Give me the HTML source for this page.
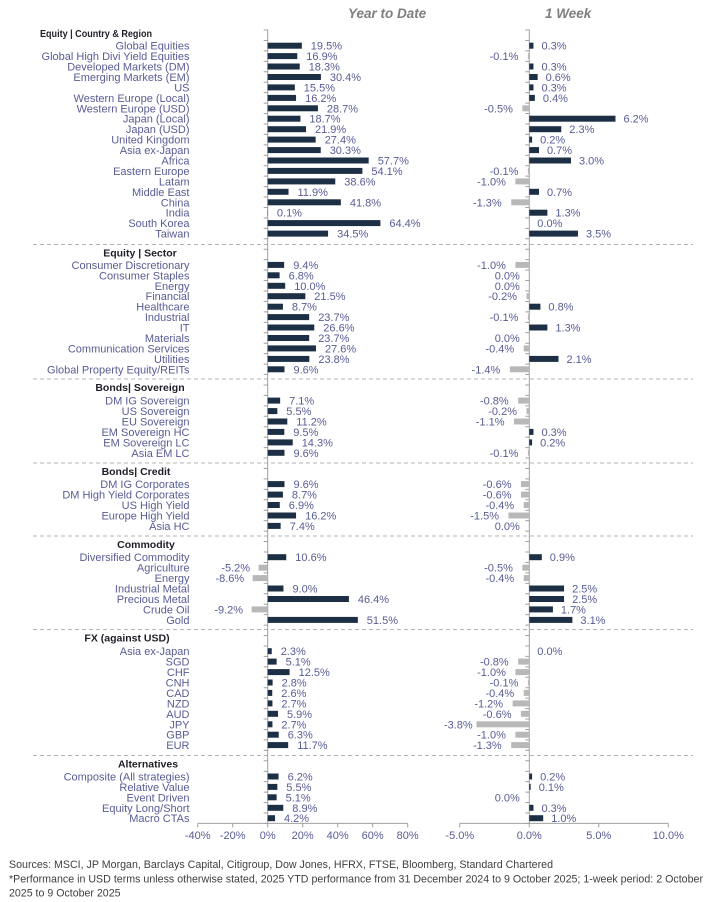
<!DOCTYPE html>
<html><head><meta charset="utf-8"><style>
html,body{margin:0;padding:0;background:#fff;}
svg{display:block;font-family:"Liberation Sans",Arial,sans-serif;}
.l{font-size:11px;fill:#585c94;text-anchor:end;}
.v{font-size:11px;fill:#585c94;}
.ve{font-size:11px;fill:#585c94;text-anchor:end;}
.h{font-size:10.5px;font-weight:bold;fill:#1e1e28;}
.hm{font-size:10.5px;font-weight:bold;fill:#1e1e28;text-anchor:middle;}
.p{fill:#1c2f45;}
.n{fill:#b8b8b8;}
.ax{font-size:11px;fill:#585c94;text-anchor:middle;}
.t{font-size:13.5px;font-weight:bold;font-style:italic;fill:#7f7f7f;}
.f{font-size:11px;fill:#404040;}
</style></head><body>
<svg width="714" height="902" viewBox="0 0 714 902" xmlns="http://www.w3.org/2000/svg">
<rect width="714" height="902" fill="#fff"/>
<text class="t" x="348" y="18">Year to Date</text>
<text class="t" x="545" y="18">1 Week</text>

<!-- separators -->
<g stroke="#b3b3b3" stroke-width="1" stroke-dasharray="4 3">
<line x1="33" y1="244.5" x2="693" y2="244.5"/>
<line x1="33" y1="379" x2="693" y2="379"/>
<line x1="33" y1="463" x2="693" y2="463"/>
<line x1="33" y1="536" x2="693" y2="536"/>
<line x1="33" y1="629.5" x2="693" y2="629.5"/>
<line x1="33" y1="755.5" x2="693" y2="755.5"/>
</g>

<!-- axes -->
<g stroke="#a0a0a0" stroke-width="1">
<line x1="267.7" y1="29.5" x2="267.7" y2="823.4"/>
<line x1="529.3" y1="29.5" x2="529.3" y2="823.4"/>
<line x1="197.7" y1="823.4" x2="407.7" y2="823.4"/>
<line x1="459.8" y1="823.4" x2="668.3" y2="823.4"/>
<path d="M197.7 823.4v4M232.7 823.4v4M267.7 823.4v4M302.7 823.4v4M337.7 823.4v4M372.7 823.4v4M407.7 823.4v4M459.8 823.4v4M529.3 823.4v4M598.8 823.4v4M668.3 823.4v4"/>
</g>
<g stroke="#a0a0a0" stroke-width="4" stroke-dasharray="1 9.44">
<line x1="265.7" y1="29.5" x2="265.7" y2="824.5"/>
<line x1="527.3" y1="29.5" x2="527.3" y2="824.5"/>
</g>

<text class="ax" x="197.7" y="839">-40%</text>
<text class="ax" x="232.7" y="839">-20%</text>
<text class="ax" x="267.7" y="839">0%</text>
<text class="ax" x="302.7" y="839">20%</text>
<text class="ax" x="337.7" y="839">40%</text>
<text class="ax" x="372.7" y="839">60%</text>
<text class="ax" x="407.7" y="839">80%</text>
<text class="ax" x="459.8" y="839">-5.0%</text>
<text class="ax" x="529.3" y="839">0.0%</text>
<text class="ax" x="598.8" y="839">5.0%</text>
<text class="ax" x="668.3" y="839">10.0%</text>

<!-- headers -->
<text class="h" x="40" y="37" textLength="112" lengthAdjust="spacingAndGlyphs">Equity | Country &amp; Region</text>
<text class="hm" x="140" y="256.5">Equity | Sector</text>
<text class="hm" x="140" y="391">Bonds| Sovereign</text>
<text class="hm" x="136" y="475">Bonds| Credit</text>
<text class="hm" x="146" y="548">Commodity</text>
<text class="hm" x="127" y="641.5">FX (against USD)</text>
<text class="hm" x="148" y="767.5">Alternatives</text>

<!-- Section 1 -->
<text class="l" x="189.5" y="49.7">Global Equities</text>
<rect class="p" x="267.7" y="42.7" width="34.13" height="6"/><text class="v" x="310.8" y="49.7">19.5%</text>
<rect class="p" x="529.3" y="42.7" width="4.17" height="6"/><text class="v" x="541.5" y="49.7">0.3%</text>

<text class="l" x="189.5" y="60.1">Global High Divi Yield Equities</text>
<rect class="p" x="267.7" y="53.1" width="29.58" height="6"/><text class="v" x="306.3" y="60.1">16.9%</text>
<rect class="n" x="527.9" y="53.1" width="1.39" height="6"/><text class="ve" x="518.4" y="60.1">-0.1%</text>

<text class="l" x="189.5" y="70.5">Developed Markets (DM)</text>
<rect class="p" x="267.7" y="63.5" width="32.03" height="6"/><text class="v" x="308.7" y="70.5">18.3%</text>
<rect class="p" x="529.3" y="63.5" width="4.17" height="6"/><text class="v" x="541.5" y="70.5">0.3%</text>

<text class="l" x="189.5" y="81">Emerging Markets (EM)</text>
<rect class="p" x="267.7" y="74" width="53.2" height="6"/><text class="v" x="329.9" y="81">30.4%</text>
<rect class="p" x="529.3" y="74" width="8.34" height="6"/><text class="v" x="545.6" y="81">0.6%</text>

<text class="l" x="189.5" y="91.4">US</text>
<rect class="p" x="267.7" y="84.4" width="27.13" height="6"/><text class="v" x="303.8" y="91.4">15.5%</text>
<rect class="p" x="529.3" y="84.4" width="4.17" height="6"/><text class="v" x="541.5" y="91.4">0.3%</text>

<text class="l" x="189.5" y="101.9">Western Europe (Local)</text>
<rect class="p" x="267.7" y="94.9" width="28.35" height="6"/><text class="v" x="305.1" y="101.9">16.2%</text>
<rect class="p" x="529.3" y="94.9" width="5.56" height="6"/><text class="v" x="542.9" y="101.9">0.4%</text>

<text class="l" x="189.5" y="112.3">Western Europe (USD)</text>
<rect class="p" x="267.7" y="105.3" width="50.23" height="6"/><text class="v" x="326.9" y="112.3">28.7%</text>
<rect class="n" x="522.35" y="105.3" width="6.95" height="6"/><text class="ve" x="512.9" y="112.3">-0.5%</text>

<text class="l" x="189.5" y="122.7">Japan (Local)</text>
<rect class="p" x="267.7" y="115.7" width="32.73" height="6"/><text class="v" x="309.4" y="122.7">18.7%</text>
<rect class="p" x="529.3" y="115.7" width="86.18" height="6"/><text class="v" x="623.5" y="122.7">6.2%</text>

<text class="l" x="189.5" y="133.2">Japan (USD)</text>
<rect class="p" x="267.7" y="126.2" width="38.33" height="6"/><text class="v" x="315" y="133.2">21.9%</text>
<rect class="p" x="529.3" y="126.2" width="31.97" height="6"/><text class="v" x="569.3" y="133.2">2.3%</text>

<text class="l" x="189.5" y="143.6">United Kingdom</text>
<rect class="p" x="267.7" y="136.6" width="47.95" height="6"/><text class="v" x="324.7" y="143.6">27.4%</text>
<rect class="p" x="529.3" y="136.6" width="2.78" height="6"/><text class="v" x="540.1" y="143.6">0.2%</text>

<text class="l" x="189.5" y="154.1">Asia ex-Japan</text>
<rect class="p" x="267.7" y="147.1" width="53.03" height="6"/><text class="v" x="329.7" y="154.1">30.3%</text>
<rect class="p" x="529.3" y="147.1" width="9.73" height="6"/><text class="v" x="547" y="154.1">0.7%</text>

<text class="l" x="189.5" y="164.5">Africa</text>
<rect class="p" x="267.7" y="157.5" width="100.98" height="6"/><text class="v" x="377.7" y="164.5">57.7%</text>
<rect class="p" x="529.3" y="157.5" width="41.7" height="6"/><text class="v" x="579" y="164.5">3.0%</text>

<text class="l" x="189.5" y="174.9">Eastern Europe</text>
<rect class="p" x="267.7" y="167.9" width="94.68" height="6"/><text class="v" x="371.4" y="174.9">54.1%</text>
<rect class="n" x="527.9" y="167.9" width="1.39" height="6"/><text class="ve" x="518.4" y="174.9">-0.1%</text>

<text class="l" x="189.5" y="185.4">Latam</text>
<rect class="p" x="267.7" y="178.4" width="67.55" height="6"/><text class="v" x="344.3" y="185.4">38.6%</text>
<rect class="n" x="515.4" y="178.4" width="13.9" height="6"/><text class="ve" x="505.9" y="185.4">-1.0%</text>

<text class="l" x="189.5" y="195.8">Middle East</text>
<rect class="p" x="267.7" y="188.8" width="20.83" height="6"/><text class="v" x="297.5" y="195.8">11.9%</text>
<rect class="p" x="529.3" y="188.8" width="9.73" height="6"/><text class="v" x="547" y="195.8">0.7%</text>

<text class="l" x="189.5" y="206.3">China</text>
<rect class="p" x="267.7" y="199.3" width="73.15" height="6"/><text class="v" x="349.9" y="206.3">41.8%</text>
<rect class="n" x="511.23" y="199.3" width="18.07" height="6"/><text class="ve" x="501.7" y="206.3">-1.3%</text>

<text class="l" x="189.5" y="216.7">India</text>
<rect class="p" x="267.7" y="209.7" width="0.3" height="6"/><text class="v" x="276.9" y="216.7">0.1%</text>
<rect class="p" x="529.3" y="209.7" width="18.07" height="6"/><text class="v" x="555.4" y="216.7">1.3%</text>

<text class="l" x="189.5" y="227.1">South Korea</text>
<rect class="p" x="267.7" y="220.1" width="112.7" height="6"/><text class="v" x="389.4" y="227.1">64.4%</text>
<text class="v" x="537.3" y="227.1">0.0%</text>

<text class="l" x="189.5" y="237.6">Taiwan</text>
<rect class="p" x="267.7" y="230.6" width="60.38" height="6"/><text class="v" x="337.1" y="237.6">34.5%</text>
<rect class="p" x="529.3" y="230.6" width="48.65" height="6"/><text class="v" x="586" y="237.6">3.5%</text>

<!-- Sector -->
<text class="l" x="189.5" y="268.9">Consumer Discretionary</text>
<rect class="p" x="267.7" y="261.9" width="16.45" height="6"/><text class="v" x="293.2" y="268.9">9.4%</text>
<rect class="n" x="515.4" y="261.9" width="13.9" height="6"/><text class="ve" x="505.9" y="268.9">-1.0%</text>

<text class="l" x="189.5" y="279.3">Consumer Staples</text>
<rect class="p" x="267.7" y="272.3" width="11.9" height="6"/><text class="v" x="288.6" y="279.3">6.8%</text>
<text class="ve" x="519.8" y="279.3">0.0%</text>

<text class="l" x="189.5" y="289.8">Energy</text>
<rect class="p" x="267.7" y="282.8" width="17.5" height="6"/><text class="v" x="294.2" y="289.8">10.0%</text>
<text class="ve" x="519.8" y="289.8">0.0%</text>

<text class="l" x="189.5" y="300.2">Financial</text>
<rect class="p" x="267.7" y="293.2" width="37.63" height="6"/><text class="v" x="314.3" y="300.2">21.5%</text>
<rect class="n" x="526.52" y="293.2" width="2.78" height="6"/><text class="ve" x="517" y="300.2">-0.2%</text>

<text class="l" x="189.5" y="310.7">Healthcare</text>
<rect class="p" x="267.7" y="303.7" width="15.23" height="6"/><text class="v" x="291.9" y="310.7">8.7%</text>
<rect class="p" x="529.3" y="303.7" width="11.12" height="6"/><text class="v" x="548.4" y="310.7">0.8%</text>

<text class="l" x="189.5" y="321.1">Industrial</text>
<rect class="p" x="267.7" y="314.1" width="41.48" height="6"/><text class="v" x="318.2" y="321.1">23.7%</text>
<rect class="n" x="527.9" y="314.1" width="1.39" height="6"/><text class="ve" x="518.4" y="321.1">-0.1%</text>

<text class="l" x="189.5" y="331.5">IT</text>
<rect class="p" x="267.7" y="324.5" width="46.55" height="6"/><text class="v" x="323.3" y="331.5">26.6%</text>
<rect class="p" x="529.3" y="324.5" width="18.07" height="6"/><text class="v" x="555.4" y="331.5">1.3%</text>

<text class="l" x="189.5" y="342">Materials</text>
<rect class="p" x="267.7" y="335" width="41.48" height="6"/><text class="v" x="318.2" y="342">23.7%</text>
<text class="ve" x="519.8" y="342">0.0%</text>

<text class="l" x="189.5" y="352.4">Communication Services</text>
<rect class="p" x="267.7" y="345.4" width="48.3" height="6"/><text class="v" x="325" y="352.4">27.6%</text>
<rect class="n" x="523.74" y="345.4" width="5.56" height="6"/><text class="ve" x="514.2" y="352.4">-0.4%</text>

<text class="l" x="189.5" y="362.9">Utilities</text>
<rect class="p" x="267.7" y="355.9" width="41.65" height="6"/><text class="v" x="318.4" y="362.9">23.8%</text>
<rect class="p" x="529.3" y="355.9" width="29.19" height="6"/><text class="v" x="566.5" y="362.9">2.1%</text>

<text class="l" x="189.5" y="373.3">Global Property Equity/REITs</text>
<rect class="p" x="267.7" y="366.3" width="16.8" height="6"/><text class="v" x="293.5" y="373.3">9.6%</text>
<rect class="n" x="509.84" y="366.3" width="19.46" height="6"/><text class="ve" x="500.3" y="373.3">-1.4%</text>

<!-- Sovereign -->
<text class="l" x="189.5" y="404.6">DM IG Sovereign</text>
<rect class="p" x="267.7" y="397.6" width="12.43" height="6"/><text class="v" x="289.1" y="404.6">7.1%</text>
<rect class="n" x="518.18" y="397.6" width="11.12" height="6"/><text class="ve" x="508.7" y="404.6">-0.8%</text>

<text class="l" x="189.5" y="415.1">US Sovereign</text>
<rect class="p" x="267.7" y="408.1" width="9.63" height="6"/><text class="v" x="286.3" y="415.1">5.5%</text>
<rect class="n" x="526.52" y="408.1" width="2.78" height="6"/><text class="ve" x="517" y="415.1">-0.2%</text>

<text class="l" x="189.5" y="425.5">EU Sovereign</text>
<rect class="p" x="267.7" y="418.5" width="19.6" height="6"/><text class="v" x="296.3" y="425.5">11.2%</text>
<rect class="n" x="514.01" y="418.5" width="15.29" height="6"/><text class="ve" x="504.5" y="425.5">-1.1%</text>

<text class="l" x="189.5" y="435.9">EM Sovereign HC</text>
<rect class="p" x="267.7" y="428.9" width="16.63" height="6"/><text class="v" x="293.3" y="435.9">9.5%</text>
<rect class="p" x="529.3" y="428.9" width="4.17" height="6"/><text class="v" x="541.5" y="435.9">0.3%</text>

<text class="l" x="189.5" y="446.4">EM Sovereign LC</text>
<rect class="p" x="267.7" y="439.4" width="25.03" height="6"/><text class="v" x="301.7" y="446.4">14.3%</text>
<rect class="p" x="529.3" y="439.4" width="2.78" height="6"/><text class="v" x="540.1" y="446.4">0.2%</text>

<text class="l" x="189.5" y="456.8">Asia EM LC</text>
<rect class="p" x="267.7" y="449.8" width="16.8" height="6"/><text class="v" x="293.5" y="456.8">9.6%</text>
<rect class="n" x="527.9" y="449.8" width="1.39" height="6"/><text class="ve" x="518.4" y="456.8">-0.1%</text>

<!-- Credit -->
<text class="l" x="189.5" y="488.1">DM IG Corporates</text>
<rect class="p" x="267.7" y="481.1" width="16.8" height="6"/><text class="v" x="293.5" y="488.1">9.6%</text>
<rect class="n" x="520.96" y="481.1" width="8.34" height="6"/><text class="ve" x="511.5" y="488.1">-0.6%</text>

<text class="l" x="189.5" y="498.6">DM High Yield Corporates</text>
<rect class="p" x="267.7" y="491.6" width="15.23" height="6"/><text class="v" x="291.9" y="498.6">8.7%</text>
<rect class="n" x="520.96" y="491.6" width="8.34" height="6"/><text class="ve" x="511.5" y="498.6">-0.6%</text>

<text class="l" x="189.5" y="509">US High Yield</text>
<rect class="p" x="267.7" y="502" width="12.08" height="6"/><text class="v" x="288.8" y="509">6.9%</text>
<rect class="n" x="523.74" y="502" width="5.56" height="6"/><text class="ve" x="514.2" y="509">-0.4%</text>

<text class="l" x="189.5" y="519.5">Europe High Yield</text>
<rect class="p" x="267.7" y="512.5" width="28.35" height="6"/><text class="v" x="305.1" y="519.5">16.2%</text>
<rect class="n" x="508.45" y="512.5" width="20.85" height="6"/><text class="ve" x="499" y="519.5">-1.5%</text>

<text class="l" x="189.5" y="529.9">Asia HC</text>
<rect class="p" x="267.7" y="522.9" width="12.95" height="6"/><text class="v" x="289.7" y="529.9">7.4%</text>
<text class="ve" x="519.8" y="529.9">0.0%</text>

<!-- Commodity -->
<text class="l" x="189.5" y="561.2">Diversified Commodity</text>
<rect class="p" x="267.7" y="554.2" width="18.55" height="6"/><text class="v" x="295.3" y="561.2">10.6%</text>
<rect class="p" x="529.3" y="554.2" width="12.51" height="6"/><text class="v" x="549.8" y="561.2">0.9%</text>

<text class="l" x="189.5" y="571.7">Agriculture</text>
<rect class="n" x="258.6" y="564.7" width="9.1" height="6"/><text class="ve" x="250.1" y="571.7">-5.2%</text>
<rect class="n" x="522.35" y="564.7" width="6.95" height="6"/><text class="ve" x="512.9" y="571.7">-0.5%</text>

<text class="l" x="189.5" y="582.1">Energy</text>
<rect class="n" x="252.65" y="575.1" width="15.05" height="6"/><text class="ve" x="244.2" y="582.1">-8.6%</text>
<rect class="n" x="523.74" y="575.1" width="5.56" height="6"/><text class="ve" x="514.2" y="582.1">-0.4%</text>

<text class="l" x="189.5" y="592.5">Industrial Metal</text>
<rect class="p" x="267.7" y="585.5" width="15.75" height="6"/><text class="v" x="292.5" y="592.5">9.0%</text>
<rect class="p" x="529.3" y="585.5" width="34.75" height="6"/><text class="v" x="572.1" y="592.5">2.5%</text>

<text class="l" x="189.5" y="603">Precious Metal</text>
<rect class="p" x="267.7" y="596" width="81.2" height="6"/><text class="v" x="357.9" y="603">46.4%</text>
<rect class="p" x="529.3" y="596" width="34.75" height="6"/><text class="v" x="572.1" y="603">2.5%</text>

<text class="l" x="189.5" y="613.4">Crude Oil</text>
<rect class="n" x="251.6" y="606.4" width="16.1" height="6"/><text class="ve" x="243.1" y="613.4">-9.2%</text>
<rect class="p" x="529.3" y="606.4" width="23.63" height="6"/><text class="v" x="560.9" y="613.4">1.7%</text>

<text class="l" x="189.5" y="623.9">Gold</text>
<rect class="p" x="267.7" y="616.9" width="90.13" height="6"/><text class="v" x="366.8" y="623.9">51.5%</text>
<rect class="p" x="529.3" y="616.9" width="43.09" height="6"/><text class="v" x="580.4" y="623.9">3.1%</text>

<!-- FX -->
<text class="l" x="189.5" y="655.2">Asia ex-Japan</text>
<rect class="p" x="267.7" y="648.2" width="4.03" height="6"/><text class="v" x="280.7" y="655.2">2.3%</text>
<text class="v" x="537.3" y="655.2">0.0%</text>

<text class="l" x="189.5" y="665.6">SGD</text>
<rect class="p" x="267.7" y="658.6" width="8.93" height="6"/><text class="v" x="285.6" y="665.6">5.1%</text>
<rect class="n" x="518.18" y="658.6" width="11.12" height="6"/><text class="ve" x="508.7" y="665.6">-0.8%</text>

<text class="l" x="189.5" y="676.1">CHF</text>
<rect class="p" x="267.7" y="669.1" width="21.88" height="6"/><text class="v" x="298.6" y="676.1">12.5%</text>
<rect class="n" x="515.4" y="669.1" width="13.9" height="6"/><text class="ve" x="505.9" y="676.1">-1.0%</text>

<text class="l" x="189.5" y="686.5">CNH</text>
<rect class="p" x="267.7" y="679.5" width="4.9" height="6"/><text class="v" x="281.6" y="686.5">2.8%</text>
<rect class="n" x="527.9" y="679.5" width="1.39" height="6"/><text class="ve" x="518.4" y="686.5">-0.1%</text>

<text class="l" x="189.5" y="696.9">CAD</text>
<rect class="p" x="267.7" y="689.9" width="4.55" height="6"/><text class="v" x="281.3" y="696.9">2.6%</text>
<rect class="n" x="523.74" y="689.9" width="5.56" height="6"/><text class="ve" x="514.2" y="696.9">-0.4%</text>

<text class="l" x="189.5" y="707.4">NZD</text>
<rect class="p" x="267.7" y="700.4" width="4.73" height="6"/><text class="v" x="281.4" y="707.4">2.7%</text>
<rect class="n" x="512.62" y="700.4" width="16.68" height="6"/><text class="ve" x="503.1" y="707.4">-1.2%</text>

<text class="l" x="189.5" y="717.8">AUD</text>
<rect class="p" x="267.7" y="710.8" width="10.33" height="6"/><text class="v" x="287" y="717.8">5.9%</text>
<rect class="n" x="520.96" y="710.8" width="8.34" height="6"/><text class="ve" x="511.5" y="717.8">-0.6%</text>

<text class="l" x="189.5" y="728.3">JPY</text>
<rect class="p" x="267.7" y="721.3" width="4.73" height="6"/><text class="v" x="281.4" y="728.3">2.7%</text>
<rect class="n" x="476.48" y="721.3" width="52.82" height="6"/><text class="ve" x="472.7" y="728.3">-3.8%</text>

<text class="l" x="189.5" y="738.7">GBP</text>
<rect class="p" x="267.7" y="731.7" width="11.03" height="6"/><text class="v" x="287.7" y="738.7">6.3%</text>
<rect class="n" x="515.4" y="731.7" width="13.9" height="6"/><text class="ve" x="505.9" y="738.7">-1.0%</text>

<text class="l" x="189.5" y="749.1">EUR</text>
<rect class="p" x="267.7" y="742.1" width="20.48" height="6"/><text class="v" x="297.2" y="749.1">11.7%</text>
<rect class="n" x="511.23" y="742.1" width="18.07" height="6"/><text class="ve" x="501.7" y="749.1">-1.3%</text>

<!-- Alternatives -->
<text class="l" x="189.5" y="780.5">Composite (All strategies)</text>
<rect class="p" x="267.7" y="773.5" width="10.85" height="6"/><text class="v" x="287.6" y="780.5">6.2%</text>
<rect class="p" x="529.3" y="773.5" width="2.78" height="6"/><text class="v" x="540.1" y="780.5">0.2%</text>

<text class="l" x="189.5" y="790.9">Relative Value</text>
<rect class="p" x="267.7" y="783.9" width="9.63" height="6"/><text class="v" x="286.3" y="790.9">5.5%</text>
<rect class="p" x="529.3" y="783.9" width="1.39" height="6"/><text class="v" x="538.7" y="790.9">0.1%</text>

<text class="l" x="189.5" y="801.3">Event Driven</text>
<rect class="p" x="267.7" y="794.3" width="8.93" height="6"/><text class="v" x="285.6" y="801.3">5.1%</text>
<text class="ve" x="519.8" y="801.3">0.0%</text>

<text class="l" x="189.5" y="811.8">Equity Long/Short</text>
<rect class="p" x="267.7" y="804.8" width="15.58" height="6"/><text class="v" x="292.3" y="811.8">8.9%</text>
<rect class="p" x="529.3" y="804.8" width="4.17" height="6"/><text class="v" x="541.5" y="811.8">0.3%</text>

<text class="l" x="189.5" y="822.2">Macro CTAs</text>
<rect class="p" x="267.7" y="815.2" width="7.35" height="6"/><text class="v" x="284" y="822.2">4.2%</text>
<rect class="p" x="529.3" y="815.2" width="13.9" height="6"/><text class="v" x="551.2" y="822.2">1.0%</text>

<!-- footer -->
<text class="f" x="9" y="868" textLength="544" lengthAdjust="spacingAndGlyphs">Sources: MSCI, JP Morgan, Barclays Capital, Citigroup, Dow Jones, HFRX, FTSE, Bloomberg, Standard Chartered</text>
<text class="f" x="9" y="882.5" textLength="694" lengthAdjust="spacingAndGlyphs">*Performance in USD terms unless otherwise stated, 2025 YTD performance from 31 December 2024 to 9 October 2025; 1-week period: 2 October</text>
<text class="f" x="9" y="896.5" textLength="111.5" lengthAdjust="spacingAndGlyphs">2025 to 9 October 2025</text>
</svg>
</body></html>
